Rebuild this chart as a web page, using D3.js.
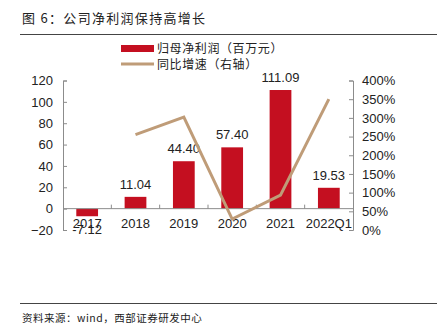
<!DOCTYPE html>
<html lang="zh">
<head>
<meta charset="UTF-8" />
<title>公司净利润保持高增长</title>
<script src="https://cdnjs.cloudflare.com/ajax/libs/d3/7.8.5/d3.min.js"></script>
<style>
  html, body { margin: 0; padding: 0; background: #fff; }
  svg { display: block; }
</style>
</head>
<body>
<svg id="svg"></svg>
<script>
  const categories = ["2017", "2018", "2019", "2020", "2021", "2022Q1"];
  const profit = [-7.12, 11.04, 44.40, 57.40, 111.09, 19.53];
  const growth = [255, 302, 29.3, 93.5, 350]; // % from 2018 onwards
  const leftTicks = [-20, 0, 20, 40, 60, 80, 100, 120];
  const rightTicks = [0, 50, 100, 150, 200, 250, 300, 350, 400];

  const width = 437, height = 330;
  const plot = { left: 63, right: 353, top: 80.5, bottom: 230 };
  const latin = "'Liberation Sans', Arial, sans-serif";
  const cjk = "'Noto Sans CJK SC', sans-serif";
  const barColor = "#C40F20";
  const lineColor = "#BF9C78";
  const axisColor = "#8c8c8c";

  const svg = d3.select("#svg").attr("width", width).attr("height", height);

  // 标题和分隔线
  svg.append("text").text("图 6：公司净利润保持高增长")
    .attr("x", 22).attr("y", 23).attr("letter-spacing", 1.3)
    .attr("font-family", cjk).attr("font-size", 13).attr("fill", "#222");
  svg.append("line").attr("x1", 20).attr("x2", 437).attr("y1", 34.5).attr("y2", 34.5)
    .attr("stroke", "#444").attr("stroke-width", 1);
  svg.append("line").attr("x1", 20).attr("x2", 437).attr("y1", 303.5).attr("y2", 303.5)
    .attr("stroke", "#444").attr("stroke-width", 1);
  svg.append("text").text("资料来源：wind，西部证券研发中心")
    .attr("x", 22).attr("y", 322).attr("letter-spacing", 0.5)
    .attr("font-family", cjk).attr("font-size", 10.5).attr("fill", "#222");

  // 比例尺
  const x = d3.scaleBand().domain(categories).range([plot.left, plot.right]).paddingInner(0.55).paddingOuter(0.275);
  const xStep = d3.scaleBand().domain(categories).range([plot.left, plot.right]);
  const yL = d3.scaleLinear().domain([-20, 120]).range([plot.bottom, plot.top]);
  const yR = d3.scaleLinear().domain([0, 400]).range([plot.bottom, plot.top]);

  // 柱子
  svg.append("g").selectAll("rect").data(profit).join("rect")
    .attr("x", (d, i) => x(categories[i]))
    .attr("width", x.bandwidth())
    .attr("y", d => yL(Math.max(0, d)))
    .attr("height", d => Math.abs(yL(d) - yL(0)))
    .attr("fill", barColor);

  // 左轴
  const gl = svg.append("g").attr("transform", `translate(${plot.left},0)`)
    .call(d3.axisLeft(yL).tickValues(leftTicks).tickSizeInner(-4).tickSizeOuter(-4).tickPadding(10));
  // 右轴
  const gr = svg.append("g").attr("transform", `translate(${plot.right},0)`)
    .call(d3.axisRight(yR).tickValues(rightTicks).tickFormat(d => d + "%")
      .tickSizeInner(-4).tickSizeOuter(-4).tickPadding(9));
  [gl, gr].forEach(g => {
    g.selectAll("path, line").attr("stroke", axisColor);
    g.selectAll("text").attr("font-family", latin).attr("font-size", 13).attr("fill", "#222");
  });

  // 横轴（0线）
  const gx = svg.append("g");
  gx.append("line").attr("x1", plot.left).attr("x2", plot.right)
    .attr("y1", yL(0)).attr("y2", yL(0)).attr("stroke", axisColor);
  gx.selectAll("line.tick").data(categories.slice(1)).join("line")
    .attr("class", "tick")
    .attr("x1", d => xStep(d)).attr("x2", d => xStep(d))
    .attr("y1", yL(0)).attr("y2", yL(0) - 4).attr("stroke", axisColor);
  gx.selectAll("text").data(categories).join("text")
    .text(d => d)
    .attr("x", d => x(d) + x.bandwidth() / 2)
    .attr("y", 228)
    .attr("text-anchor", "middle")
    .attr("font-family", latin).attr("font-size", 13).attr("fill", "#222");

  // 数据标签
  svg.append("g").selectAll("text").data(profit).join("text")
    .text(d => d.toFixed(2))
    .attr("x", (d, i) => x(categories[i]) + x.bandwidth() / 2)
    .attr("y", d => d >= 0 ? yL(d) - 8 : yL(d) + 18)
    .attr("text-anchor", "middle")
    .attr("font-family", latin).attr("font-size", 13).attr("fill", "#222");

  // 同比增速折线
  const line = d3.line()
    .x((d, i) => x(categories[i + 1]) + x.bandwidth() / 2)
    .y(d => yR(d));
  svg.append("path").datum(growth).attr("d", line)
    .attr("fill", "none").attr("stroke", lineColor).attr("stroke-width", 3);

  // 图例
  const lg = svg.append("g");
  lg.append("rect").attr("x", 121).attr("y", 45).attr("width", 33).attr("height", 7).attr("fill", barColor);
  lg.append("text").text("归母净利润（百万元）").attr("x", 157).attr("y", 53).attr("letter-spacing", 0.6)
    .attr("font-family", cjk).attr("font-size", 12).attr("fill", "#222");
  lg.append("line").attr("x1", 121).attr("x2", 154).attr("y1", 64).attr("y2", 64)
    .attr("stroke", lineColor).attr("stroke-width", 3);
  lg.append("text").text("同比增速（右轴）").attr("x", 157).attr("y", 68.5).attr("letter-spacing", 0.6)
    .attr("font-family", cjk).attr("font-size", 12).attr("fill", "#222");
</script>
</body>
</html>
